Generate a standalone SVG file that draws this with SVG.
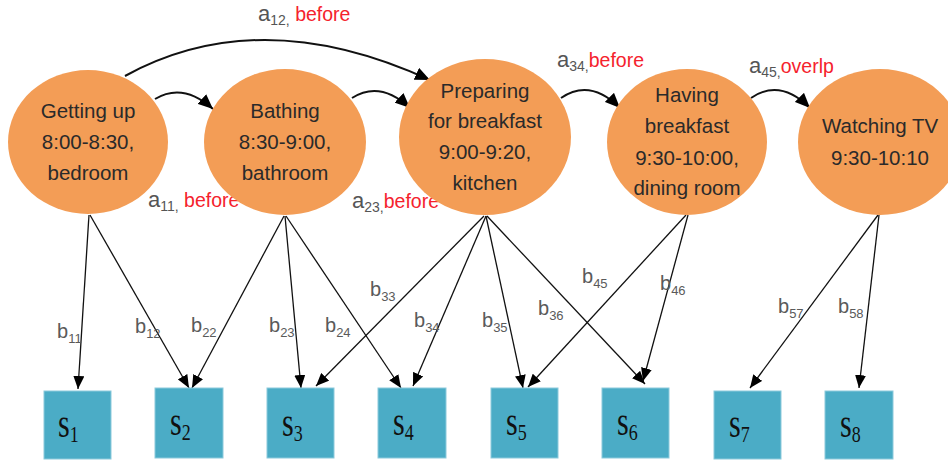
<svg xmlns="http://www.w3.org/2000/svg" width="948" height="464" viewBox="0 0 948 464">
<defs>
<style>
.node{fill:#F39D56;}
.nt{font-family:"Liberation Sans",Arial,sans-serif;font-size:20.5px;fill:#2a2a2a;text-anchor:middle;}
.sq{fill:#4BACC6;stroke:#8CCADC;stroke-width:1;}
.st{font-family:"Liberation Serif","Times New Roman",serif;font-size:30px;fill:#111;}
.sub{font-size:18px;}
.bl{font-family:"Liberation Sans",Arial,sans-serif;font-size:20px;fill:#5a5a5a;}
.al{font-family:"Liberation Sans",Arial,sans-serif;font-size:22px;fill:#555;}
.red{fill:#F5222D;font-size:19.5px;}
.edge{stroke:#111;stroke-width:1.3;fill:none;marker-end:url(#ah);}
.arc{stroke:#111;stroke-width:2;fill:none;marker-end:url(#ah2);}
</style>
<marker id="ah" markerUnits="userSpaceOnUse" markerWidth="13" markerHeight="11" refX="13" refY="5.5" orient="auto">
<path d="M0,0 L13,5.5 L0,11 z" fill="#000"/>
</marker>
<marker id="ah2" markerUnits="userSpaceOnUse" markerWidth="15" markerHeight="13" refX="15" refY="6.5" orient="auto">
<path d="M0,0 L15,6.5 L0,13 z" fill="#000"/>
</marker>
</defs>
<rect width="948" height="464" fill="#fff"/>

<g id="connectors">
<path class="arc" d="M125,76 Q260,2 430,80"/>
<path class="arc" d="M155,99 Q183,82 213,109"/>
<path class="arc" d="M352,98 Q380,80 410,108"/>
<path class="arc" d="M561,98 Q590,78 620,108"/>
<path class="arc" d="M751,98 Q780,78 810,108"/>
<line class="edge" x1="89" y1="215" x2="78" y2="389"/>
<line class="edge" x1="90" y1="215" x2="189" y2="388"/>
<line class="edge" x1="284" y1="216" x2="192" y2="388"/>
<line class="edge" x1="285" y1="216" x2="301" y2="388"/>
<line class="edge" x1="286" y1="216" x2="401" y2="388"/>
<line class="edge" x1="484" y1="216" x2="316" y2="386"/>
<line class="edge" x1="486" y1="216" x2="413" y2="386"/>
<line class="edge" x1="486" y1="216" x2="523" y2="388"/>
<line class="edge" x1="487" y1="216" x2="645" y2="384"/>
<line class="edge" x1="686" y1="215" x2="528" y2="387"/>
<line class="edge" x1="688" y1="215" x2="643" y2="381"/>
<line class="edge" x1="878" y1="215" x2="750" y2="388"/>
<line class="edge" x1="879" y1="215" x2="859" y2="388"/>
</g>

<g id="labels">
<text class="al" x="258" y="21">a<tspan font-size="14" dy="4">12,</tspan><tspan class="red" dy="-4"> before</tspan></text>
<text class="al" x="148" y="207">a<tspan font-size="14" dy="4">11,</tspan><tspan class="red" dy="-4"> before</tspan></text>
<text class="al" x="352" y="208">a<tspan font-size="14" dy="4">23,</tspan><tspan class="red" dy="-4">before</tspan></text>
<text class="al" x="557" y="67">a<tspan font-size="14" dy="4">34,</tspan><tspan class="red" dy="-4">before</tspan></text>
<text class="al" x="749" y="73">a<tspan font-size="14" dy="4">45,</tspan><tspan class="red" dy="-4">overlp</tspan></text>
<text class="bl" x="57" y="338">b<tspan font-size="13" dy="5">11</tspan></text>
<text class="bl" x="135" y="333">b<tspan font-size="13" dy="5">12</tspan></text>
<text class="bl" x="191" y="332">b<tspan font-size="13" dy="5">22</tspan></text>
<text class="bl" x="269" y="332">b<tspan font-size="13" dy="5">23</tspan></text>
<text class="bl" x="325" y="332">b<tspan font-size="13" dy="5">24</tspan></text>
<text class="bl" x="370" y="296">b<tspan font-size="13" dy="5">33</tspan></text>
<text class="bl" x="414" y="327">b<tspan font-size="13" dy="5">34</tspan></text>
<text class="bl" x="482" y="327">b<tspan font-size="13" dy="5">35</tspan></text>
<text class="bl" x="538" y="315">b<tspan font-size="13" dy="5">36</tspan></text>
<text class="bl" x="582" y="283">b<tspan font-size="13" dy="5">45</tspan></text>
<text class="bl" x="660" y="290">b<tspan font-size="13" dy="5">46</tspan></text>
<text class="bl" x="778" y="313">b<tspan font-size="13" dy="5">57</tspan></text>
<text class="bl" x="838" y="313">b<tspan font-size="13" dy="5">58</tspan></text>
</g>

<g id="n1">
<ellipse class="node" cx="88" cy="142" rx="80" ry="72"/>
<text class="nt" x="88" y="118">Getting up</text>
<text class="nt" x="88" y="149">8:00-8:30,</text>
<text class="nt" x="88" y="180">bedroom</text>
</g>
<g id="n2">
<ellipse class="node" cx="285" cy="142" rx="81" ry="73"/>
<text class="nt" x="285" y="118">Bathing</text>
<text class="nt" x="285" y="149">8:30-9:00,</text>
<text class="nt" x="285" y="180">bathroom</text>
</g>
<g id="n3">
<ellipse class="node" cx="485" cy="137" rx="86" ry="78"/>
<text class="nt" x="485" y="98">Preparing</text>
<text class="nt" x="485" y="128">for breakfast</text>
<text class="nt" x="485" y="159">9:00-9:20,</text>
<text class="nt" x="485" y="190">kitchen</text>
</g>
<g id="n4">
<ellipse class="node" cx="687" cy="142" rx="80" ry="73"/>
<text class="nt" x="687" y="102">Having</text>
<text class="nt" x="687" y="133">breakfast</text>
<text class="nt" x="687" y="165">9:30-10:00,</text>
<text class="nt" x="687" y="195">dining room</text>
</g>
<g id="n5">
<ellipse class="node" cx="880" cy="142" rx="82" ry="73"/>
<text class="nt" x="880" y="133">Watching TV</text>
<text class="nt" x="880" y="165">9:30-10:10</text>
</g>

<g id="s1"><rect class="sq" x="44" y="391" width="67" height="68"/><text class="st" transform="translate(58,437) scale(1,1.3)">s<tspan class="sub" dy="4">1</tspan></text></g>
<g id="s2"><rect class="sq" x="155" y="388" width="68" height="70"/><text class="st" transform="translate(170,435) scale(1,1.3)">s<tspan class="sub" dy="4">2</tspan></text></g>
<g id="s3"><rect class="sq" x="267" y="388" width="67" height="70"/><text class="st" transform="translate(282,436) scale(1,1.3)">s<tspan class="sub" dy="4">3</tspan></text></g>
<g id="s4"><rect class="sq" x="378" y="388" width="68" height="70"/><text class="st" transform="translate(393,435) scale(1,1.3)">s<tspan class="sub" dy="4">4</tspan></text></g>
<g id="s5"><rect class="sq" x="491" y="388" width="67" height="70"/><text class="st" transform="translate(506,435) scale(1,1.3)">s<tspan class="sub" dy="4">5</tspan></text></g>
<g id="s6"><rect class="sq" x="602" y="388" width="67" height="70"/><text class="st" transform="translate(617,435) scale(1,1.3)">s<tspan class="sub" dy="4">6</tspan></text></g>
<g id="s7"><rect class="sq" x="714" y="391" width="67" height="68"/><text class="st" transform="translate(729,437) scale(1,1.3)">s<tspan class="sub" dy="4">7</tspan></text></g>
<g id="s8"><rect class="sq" x="825" y="391" width="68" height="68"/><text class="st" transform="translate(840,437) scale(1,1.3)">s<tspan class="sub" dy="4">8</tspan></text></g>
</svg>
